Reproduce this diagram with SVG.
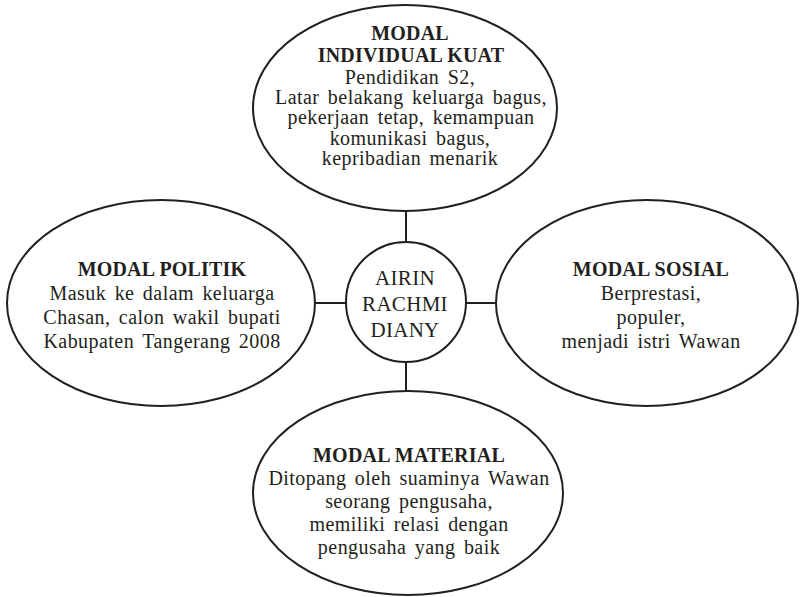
<svg xmlns="http://www.w3.org/2000/svg" width="800" height="597" viewBox="0 0 800 597">
<style>
.shape{fill:#fff;stroke:#231f20;stroke-width:2}
.conn line{stroke:#231f20;stroke-width:2}
text{font-family:"Liberation Serif","Times New Roman",serif;fill:#231f20;text-anchor:middle}
.h{font-size:20px;font-weight:bold;letter-spacing:0.2px}
.b{font-size:20px;letter-spacing:0.45px;word-spacing:3px}
.c{font-size:21px;letter-spacing:0.3px}
</style>
<rect width="800" height="597" fill="#fff"/>
<g id="connectors" class="conn">
<line x1="406" y1="211" x2="406" y2="243"/>
<line x1="406" y1="362" x2="406" y2="392"/>
<line x1="315" y1="303" x2="346" y2="303"/>
<line x1="466" y1="303" x2="496" y2="303"/>
</g>
<g id="individual">
<ellipse class="shape" cx="405" cy="108" rx="152" ry="103"/>
<text class="h" x="410" y="40">MODAL</text>
<text class="h" x="411" y="62">INDIVIDUAL KUAT</text>
<text class="b" x="410" y="84">Pendidikan S2,</text>
<text class="b" x="411" y="104">Latar belakang keluarga bagus,</text>
<text class="b" x="411" y="124">pekerjaan tetap, kemampuan</text>
<text class="b" x="410" y="145">komunikasi bagus,</text>
<text class="b" x="410" y="165">kepribadian menarik</text>
</g>
<g id="center">
<circle class="shape" cx="406" cy="302" r="60"/>
<text class="c" x="405" y="285">AIRIN</text>
<text class="c" x="405" y="311">RACHMI</text>
<text class="c" x="405" y="337">DIANY</text>
</g>
<g id="politik">
<ellipse class="shape" cx="161" cy="303" rx="154" ry="103"/>
<text class="h" x="162" y="276">MODAL POLITIK</text>
<text class="b" x="162" y="300">Masuk ke dalam keluarga</text>
<text class="b" x="162" y="324">Chasan, calon wakil bupati</text>
<text class="b" x="162" y="348">Kabupaten Tangerang 2008</text>
</g>
<g id="sosial">
<ellipse class="shape" cx="647" cy="303" rx="151" ry="103"/>
<text class="h" x="651" y="276">MODAL SOSIAL</text>
<text class="b" x="651" y="300">Berprestasi,</text>
<text class="b" x="651" y="324">populer,</text>
<text class="b" x="651" y="348">menjadi istri Wawan</text>
</g>
<g id="material">
<ellipse class="shape" cx="408" cy="493" rx="155" ry="102"/>
<text class="h" x="409" y="462">MODAL MATERIAL</text>
<text class="b" x="409" y="485">Ditopang oleh suaminya Wawan</text>
<text class="b" x="409" y="508">seorang pengusaha,</text>
<text class="b" x="409" y="531">memiliki relasi dengan</text>
<text class="b" x="409" y="554">pengusaha yang baik</text>
</g>
</svg>
